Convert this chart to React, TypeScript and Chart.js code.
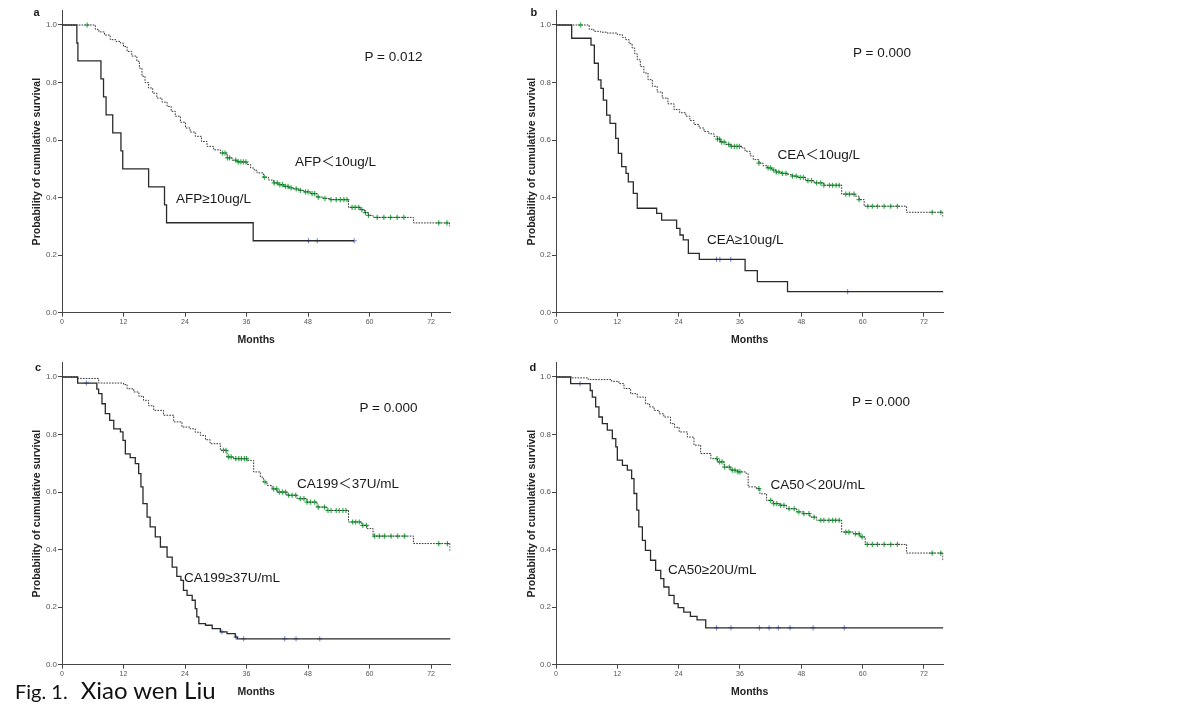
import React, { useEffect, useRef } from "react";
import { Chart, registerables } from "chart.js";

Chart.register(...registerables);

const FONT = "'Liberation Sans', Arial, Helvetica, 'Noto Sans CJK SC', sans-serif";
const GREEN = "#2fb14a";
const BLUE = "#6b7fd8";

// axes
const xTickValues = [0, 12, 24, 36, 48, 60, 72];
const yTickValues = [0, 0.2, 0.4, 0.6, 0.8, 1.0];
const yTickLabels = ["0.0", "0.2", "0.4", "0.6", "0.8", "1.0"];
const xTitle = "Months";
const yTitle = "Probability of cumulative survival";
const X_MAX = 75.8;
const Y_MAX = 1.05;

// ---- Panel a : AFP ----
const aLowGroupT = [0, 6.5, 7.2, 8.3, 9.4, 10.5, 11.4, 12.0, 12.7, 13.6, 14.6, 15.1, 15.6, 16.2, 16.9, 17.7, 18.5, 19.5, 20.5, 21.3, 22.1, 23.1, 24.1, 25.0, 26.0, 27.2, 28.3, 29.6, 30.9, 32.2, 33.2, 34.2, 36.1, 36.8, 37.5, 38.05, 39.3, 40.3, 41.3, 42.3, 43.25, 44.2, 45.2, 46.2, 47.15, 48.45, 49.76, 51.0, 52.4, 55.9, 58.2, 59.0, 59.8, 60.7, 68.6, 75.6];
const aLowGroupS = [1.0, 0.985, 0.976, 0.965, 0.949, 0.943, 0.937, 0.925, 0.908, 0.892, 0.874, 0.85, 0.822, 0.8, 0.781, 0.763, 0.746, 0.732, 0.717, 0.7, 0.683, 0.662, 0.642, 0.628, 0.613, 0.595, 0.578, 0.566, 0.555, 0.538, 0.53, 0.524, 0.515, 0.503, 0.495, 0.486, 0.471, 0.461, 0.451, 0.445, 0.439, 0.434, 0.43, 0.425, 0.42, 0.414, 0.402, 0.397, 0.393, 0.366, 0.358, 0.348, 0.338, 0.331, 0.312, 0.3];
const aLowGroupCens = [4.9, 31.3, 31.8, 32.3, 32.7, 33.9, 34.4, 34.9, 35.4, 35.9, 39.5, 41.4, 42.0, 42.5, 43.0, 43.6, 44.1, 44.7, 45.7, 46.5, 47.5, 48.0, 48.8, 49.3, 50.0, 51.3, 52.5, 53.5, 54.3, 55.0, 55.6, 56.6, 57.2, 57.9, 58.5, 59.2, 59.8, 61.5, 62.8, 64.1, 65.4, 66.7, 73.5, 75.1];
const aHighGroupT = [0, 2.9, 3.1, 7.6, 8.1, 8.6, 9.9, 11.5, 11.85, 16.9, 20.0, 20.4, 37.3, 57.0];
const aHighGroupS = [1.0, 0.9375, 0.875, 0.8125, 0.75, 0.6875, 0.625, 0.5625, 0.5, 0.4375, 0.375, 0.3125, 0.25, 0.25];
const aHighGroupCens = [48.1, 49.8, 57.0];

// ---- Panel b : CEA ----
const bLowGroupT = [0, 6.5, 7.4, 8.7, 10.0, 12.0, 13.0, 13.6, 14.3, 14.9, 15.4, 15.9, 16.5, 17.2, 18.0, 18.85, 19.8, 20.8, 21.9, 23.1, 24.2, 25.4, 26.2, 27.0, 28.0, 28.96, 29.9, 30.9, 31.6, 32.2, 33.2, 34.2, 36.4, 37.0, 38.0, 38.6, 39.7, 40.5, 41.35, 42.2, 43.0, 44.1, 45.25, 46.2, 47.2, 48.85, 50.5, 52.4, 55.9, 58.5, 59.3, 60.3, 68.6, 75.7];
const bLowGroupS = [1.0, 0.985, 0.978, 0.975, 0.972, 0.966, 0.957, 0.949, 0.935, 0.92, 0.9, 0.879, 0.856, 0.833, 0.81, 0.787, 0.767, 0.746, 0.726, 0.706, 0.695, 0.683, 0.668, 0.654, 0.642, 0.63, 0.622, 0.613, 0.603, 0.593, 0.585, 0.578, 0.572, 0.561, 0.545, 0.532, 0.52, 0.511, 0.503, 0.496, 0.489, 0.484, 0.48, 0.475, 0.47, 0.459, 0.451, 0.443, 0.412, 0.405, 0.393, 0.37, 0.349, 0.33];
const bLowGroupCens = [4.8, 31.6, 32.0, 32.4, 32.9, 33.8, 34.3, 34.9, 35.4, 35.9, 39.7, 41.5, 42.0, 42.6, 43.1, 43.6, 44.3, 45.0, 46.3, 47.0, 47.8, 48.4, 49.3, 50.0, 51.0, 51.8, 52.4, 53.5, 54.1, 54.8, 55.4, 56.7, 57.4, 58.3, 59.3, 61.0, 61.9, 62.9, 64.2, 65.5, 66.8, 73.6, 75.3];
const bHighGroupT = [0, 3.07, 6.85, 7.5, 8.28, 8.8, 9.26, 9.91, 10.57, 11.68, 12.2, 12.85, 13.7, 14.15, 15.13, 15.9, 19.7, 20.67, 23.6, 24.26, 24.9, 25.9, 28.04, 37.0, 39.4, 45.3, 75.8];
const bHighGroupS = [1.0, 0.954, 0.93, 0.867, 0.809, 0.78, 0.739, 0.687, 0.658, 0.606, 0.554, 0.508, 0.484, 0.455, 0.415, 0.363, 0.345, 0.322, 0.293, 0.27, 0.253, 0.206, 0.185, 0.146, 0.108, 0.073, 0.073];
const bHighGroupCens = [31.4, 32.07, 34.2, 57.07];

// ---- Panel c : CA199 ----
const cLowGroupT = [0, 2.93, 7.15, 12.0, 12.7, 14.0, 15.0, 15.9, 16.9, 17.9, 19.8, 21.8, 23.4, 25.0, 26.0, 27.0, 28.0, 28.9, 30.9, 32.2, 33.5, 36.1, 37.4, 38.7, 39.3, 40.0, 41.0, 41.95, 43.9, 45.85, 47.8, 49.76, 51.7, 55.9, 58.5, 59.5, 60.7, 68.6, 75.7];
const cLowGroupS = [1.0, 0.995, 0.979, 0.974, 0.959, 0.948, 0.933, 0.919, 0.9, 0.884, 0.867, 0.844, 0.826, 0.82, 0.808, 0.797, 0.782, 0.768, 0.745, 0.722, 0.716, 0.71, 0.67, 0.652, 0.635, 0.623, 0.611, 0.6, 0.589, 0.577, 0.565, 0.548, 0.536, 0.496, 0.484, 0.473, 0.447, 0.421, 0.392];
const cLowGroupCens = [31.5, 32.0, 32.5, 33.0, 33.9, 34.5, 35.0, 35.6, 36.0, 39.6, 41.3, 41.9, 42.4, 43.0, 43.6, 44.2, 44.9, 45.6, 46.5, 47.2, 47.8, 48.5, 49.3, 50.0, 51.2, 51.9, 52.5, 53.5, 54.1, 54.8, 55.4, 56.7, 57.3, 58.0, 58.7, 59.4, 61.0, 61.9, 62.9, 64.2, 65.5, 66.8, 73.5, 75.2];
const cHighGroupT = [0, 3.06, 6.8, 7.15, 7.8, 8.45, 9.3, 10.1, 11.4, 11.9, 12.36, 13.3, 14.3, 14.96, 15.4, 15.8, 16.6, 17.2, 18.2, 19.2, 20.5, 21.5, 22.4, 23.2, 23.7, 24.4, 25.4, 26.0, 26.3, 26.7, 28.0, 29.3, 30.9, 32.2, 33.8, 34.2, 75.8];
const cHighGroupS = [1.0, 0.979, 0.958, 0.942, 0.907, 0.873, 0.849, 0.82, 0.809, 0.78, 0.733, 0.72, 0.699, 0.664, 0.618, 0.56, 0.513, 0.479, 0.444, 0.409, 0.374, 0.339, 0.307, 0.293, 0.258, 0.241, 0.224, 0.195, 0.166, 0.143, 0.137, 0.125, 0.114, 0.108, 0.096, 0.09, 0.09];
const cHighGroupCens = [4.75, 31.2, 33.95, 35.45, 43.45, 45.66, 50.3];

// ---- Panel d : CA50 ----
const dLowGroupT = [0, 3.07, 6.3, 10.9, 12.3, 13.3, 14.6, 15.9, 17.5, 18.3, 19.2, 20.2, 21.1, 22.4, 23.2, 24.1, 25.7, 27.0, 28.3, 30.3, 31.6, 32.9, 34.2, 35.5, 37.2, 37.6, 39.25, 39.9, 41.2, 42.5, 43.8, 45.1, 47.1, 48.4, 49.7, 51.0, 55.9, 58.2, 59.5, 60.5, 68.6, 75.7];
const dLowGroupS = [1.0, 0.997, 0.991, 0.985, 0.977, 0.96, 0.942, 0.93, 0.907, 0.896, 0.884, 0.872, 0.861, 0.838, 0.825, 0.809, 0.791, 0.763, 0.734, 0.716, 0.705, 0.687, 0.676, 0.67, 0.664, 0.618, 0.612, 0.594, 0.571, 0.56, 0.554, 0.542, 0.531, 0.525, 0.513, 0.502, 0.461, 0.455, 0.444, 0.418, 0.388, 0.363];
const dLowGroupCens = [31.5, 32.0, 32.5, 33.0, 33.9, 34.5, 35.0, 35.6, 36.0, 39.7, 42.0, 42.6, 43.2, 43.96, 44.6, 45.6, 46.6, 47.5, 48.5, 49.5, 50.5, 51.8, 52.4, 53.4, 54.1, 54.7, 55.4, 56.7, 57.3, 58.6, 59.3, 59.9, 60.9, 61.9, 62.9, 64.2, 65.5, 66.8, 73.6, 75.3];
const dHighGroupT = [0, 2.87, 6.7, 7.1, 7.76, 8.4, 9.07, 10.04, 11.02, 11.7, 12.0, 13.0, 13.96, 14.8, 15.26, 15.8, 16.2, 16.9, 17.5, 18.5, 19.5, 20.5, 21.1, 22.1, 23.1, 23.9, 25.0, 26.3, 27.6, 29.3, 75.8];
const dHighGroupS = [1.0, 0.977, 0.953, 0.93, 0.896, 0.861, 0.838, 0.815, 0.786, 0.757, 0.711, 0.693, 0.676, 0.647, 0.595, 0.537, 0.479, 0.432, 0.397, 0.363, 0.328, 0.299, 0.27, 0.241, 0.212, 0.198, 0.183, 0.168, 0.156, 0.128, 0.128];
const dHighGroupCens = [4.7, 31.4, 34.24, 39.8, 41.7, 43.5, 45.8, 50.3, 56.4];

// texts
const panelLetters = ["a", "b", "c", "d"];
const pValues = ["P = 0.012", "P = 0.000", "P = 0.000", "P = 0.000"];
const lowGroupNames = ["AFP＜10ug/L", "CEA＜10ug/L", "CA199＜37U/mL", "CA50＜20U/mL"];
const highGroupNames = ["AFP≥10ug/L", "CEA≥10ug/L", "CA199≥37U/mL", "CA50≥20U/mL"];

function survAt(ts: number[], ss: number[], t: number): number {
  let s = ss[0];
  for (let i = 0; i < ts.length; i++) if (ts[i] <= t) s = ss[i];
  return s;
}

const CW = 470;
const CH = 355;
const PX_PER_UNIT = 287.67;
const X_AXIS_H = 42.33;

type PanelSpec = {
  left: number;
  top: number;
  plotW: number;
  yTitleX: number;
  lowT: number[]; lowS: number[]; lowC: number[];
  highT: number[]; highS: number[]; highC: number[];
};

const panels: PanelSpec[] = [
  { left: 0, top: 0, plotW: 388.5, yTitleX: 37.3, lowT: aLowGroupT, lowS: aLowGroupS, lowC: aLowGroupCens, highT: aHighGroupT, highS: aHighGroupS, highC: aHighGroupCens },
  { left: 494, top: 0, plotW: 387.4, yTitleX: 38.3, lowT: bLowGroupT, lowS: bLowGroupS, lowC: bLowGroupCens, highT: bHighGroupT, highS: bHighGroupS, highC: bHighGroupCens },
  { left: 0, top: 352, plotW: 388.5, yTitleX: 37.5, lowT: cLowGroupT, lowS: cLowGroupS, lowC: cLowGroupCens, highT: cHighGroupT, highS: cHighGroupS, highC: cHighGroupCens },
  { left: 494, top: 352, plotW: 387.4, yTitleX: 38.3, lowT: dLowGroupT, lowS: dLowGroupS, lowC: dLowGroupCens, highT: dHighGroupT, highS: dHighGroupS, highC: dHighGroupCens },
];

function KMPanel({ p }: { p: PanelSpec }) {
  const ref = useRef<HTMLCanvasElement>(null);
  useEffect(() => {
    const canvas = ref.current;
    if (!canvas) return;
    const pts = (t: number[], s: number[]) => t.map((x, i) => ({ x, y: s[i] }));
    const cens = (c: number[], t: number[], s: number[]) => c.map((x) => ({ x, y: survAt(t, s, x) }));
    const titleFont = { family: FONT, size: 10.5, weight: "bold" as const };
    const plotH = Y_MAX * PX_PER_UNIT;
    const padTop = CH - X_AXIS_H - plotH;
    const chart = new Chart(canvas, {
      type: "line",
      data: {
        datasets: [
          {
            data: pts(p.lowT, p.lowS),
            stepped: "before",
            borderColor: "#333333",
            borderWidth: 1,
            borderDash: [1.6, 1.2],
            pointRadius: 0,
            fill: false,
          },
          {
            data: pts(p.highT, p.highS),
            stepped: "before",
            borderColor: "#2a2a2a",
            borderWidth: 1.3,
            pointRadius: 0,
            fill: false,
          },
          {
            data: cens(p.lowC, p.lowT, p.lowS),
            showLine: false,
            pointStyle: "cross",
            pointRadius: 2.6,
            pointBorderWidth: 1.2,
            pointBorderColor: GREEN,
            borderColor: GREEN,
            backgroundColor: GREEN,
          },
          {
            data: cens(p.highC, p.highT, p.highS),
            showLine: false,
            pointStyle: "cross",
            pointRadius: 2.6,
            pointBorderWidth: 1,
            pointBorderColor: BLUE,
            borderColor: BLUE,
            backgroundColor: BLUE,
          },
        ],
      },
      options: {
        responsive: false,
        animation: false,
        events: [],
        layout: { padding: { left: 0, right: CW - 62 - p.plotW, top: padTop, bottom: 0 } },
        plugins: { legend: { display: false }, tooltip: { enabled: false } },
        scales: {
          x: {
            type: "linear",
            min: 0,
            max: X_MAX,
            afterBuildTicks: (scale: any) => {
              scale.ticks = xTickValues.map((v) => ({ value: v }));
            },
            afterFit: (scale: any) => {
              scale.height = X_AXIS_H;
            },
            ticks: {
              font: { family: FONT, size: 7 },
              color: "#555",
              padding: 1,
              maxRotation: 0,
              autoSkip: false,
              callback: (v: any) => String(v),
            },
            grid: { drawOnChartArea: false, drawTicks: true, tickLength: 4, color: "#444" },
            border: { display: true, color: "#444", width: 1 },
            title: { display: true, text: xTitle, font: titleFont, color: "#222", padding: { top: 0, bottom: 8.7 } },
          },
          y: {
            type: "linear",
            min: 0,
            max: Y_MAX,
            afterBuildTicks: (scale: any) => {
              scale.ticks = yTickValues.map((v) => ({ value: v }));
            },
            afterFit: (scale: any) => {
              scale.width = 62;
            },
            ticks: {
              font: { family: FONT, size: 8 },
              color: "#555",
              padding: 1,
              autoSkip: false,
              callback: (_v: any, i: number) => yTickLabels[i],
            },
            grid: { drawOnChartArea: false, drawTicks: true, tickLength: 4, color: "#444" },
            border: { display: true, color: "#444", width: 1 },
            title: { display: true, text: yTitle, font: titleFont, color: "#222", padding: { top: p.yTitleX - 6.3, bottom: 0 } },
          },
        },
      },
    } as any);
    return () => chart.destroy();
  }, [p]);
  return (
    <canvas
      ref={ref}
      width={CW}
      height={CH}
      style={{ position: "absolute", left: p.left, top: p.top, width: CW, height: CH }}
    />
  );
}

type Label = { text: string; x: number; y: number; size: number; bold?: boolean; family?: string };

const labels: Label[] = [
  { text: panelLetters[0], x: 33.5, y: 12, size: 11, bold: true },
  { text: panelLetters[1], x: 530.5, y: 12, size: 11, bold: true },
  { text: panelLetters[2], x: 35, y: 366.5, size: 11, bold: true },
  { text: panelLetters[3], x: 529.5, y: 367, size: 11, bold: true },
  { text: pValues[0], x: 364.5, y: 57, size: 13.5 },
  { text: pValues[1], x: 853, y: 53, size: 13.5 },
  { text: pValues[2], x: 359.5, y: 407.5, size: 13.5 },
  { text: pValues[3], x: 852, y: 402, size: 13.5 },
  { text: lowGroupNames[0], x: 295, y: 162, size: 13.5 },
  { text: highGroupNames[0], x: 176, y: 199, size: 13.5 },
  { text: lowGroupNames[1], x: 777.5, y: 155, size: 13.5 },
  { text: highGroupNames[1], x: 707, y: 240, size: 13.5 },
  { text: lowGroupNames[2], x: 297, y: 484, size: 13.5 },
  { text: highGroupNames[2], x: 184, y: 578, size: 13.5 },
  { text: lowGroupNames[3], x: 770.5, y: 485, size: 13.5 },
  { text: highGroupNames[3], x: 668, y: 570, size: 13.5 },
];

export default function App() {
  return (
    <div
      style={{
        position: "absolute",
        left: 0,
        top: 0,
        width: 1200,
        height: 712,
        background: "#ffffff",
        overflow: "hidden",
      }}
    >
      {panels.map((p, i) => (
        <KMPanel key={i} p={p} />
      ))}
      {labels.map((l, i) => (
        <div
          key={i}
          style={{
            position: "absolute",
            left: l.x,
            top: l.y,
            transform: "translateY(-50%)",
            fontFamily: l.family || FONT,
            fontSize: l.size,
            fontWeight: l.bold ? "bold" : "normal",
            lineHeight: 1,
            whiteSpace: "nowrap",
            color: "#1a1a1a",
          }}
        >
          {l.text}
        </div>
      ))}
      <div
        style={{
          position: "absolute",
          left: 15,
          top: 678,
          whiteSpace: "nowrap",
          fontFamily: "Lato, 'Open Sans', sans-serif",
          color: "#111",
          lineHeight: 1,
        }}
      >
        <span style={{ fontSize: 20 }}>Fig. 1.</span>
        <span style={{ fontSize: 24, marginLeft: 13 }}>Xiao wen Liu</span>
      </div>
    </div>
  );
}
